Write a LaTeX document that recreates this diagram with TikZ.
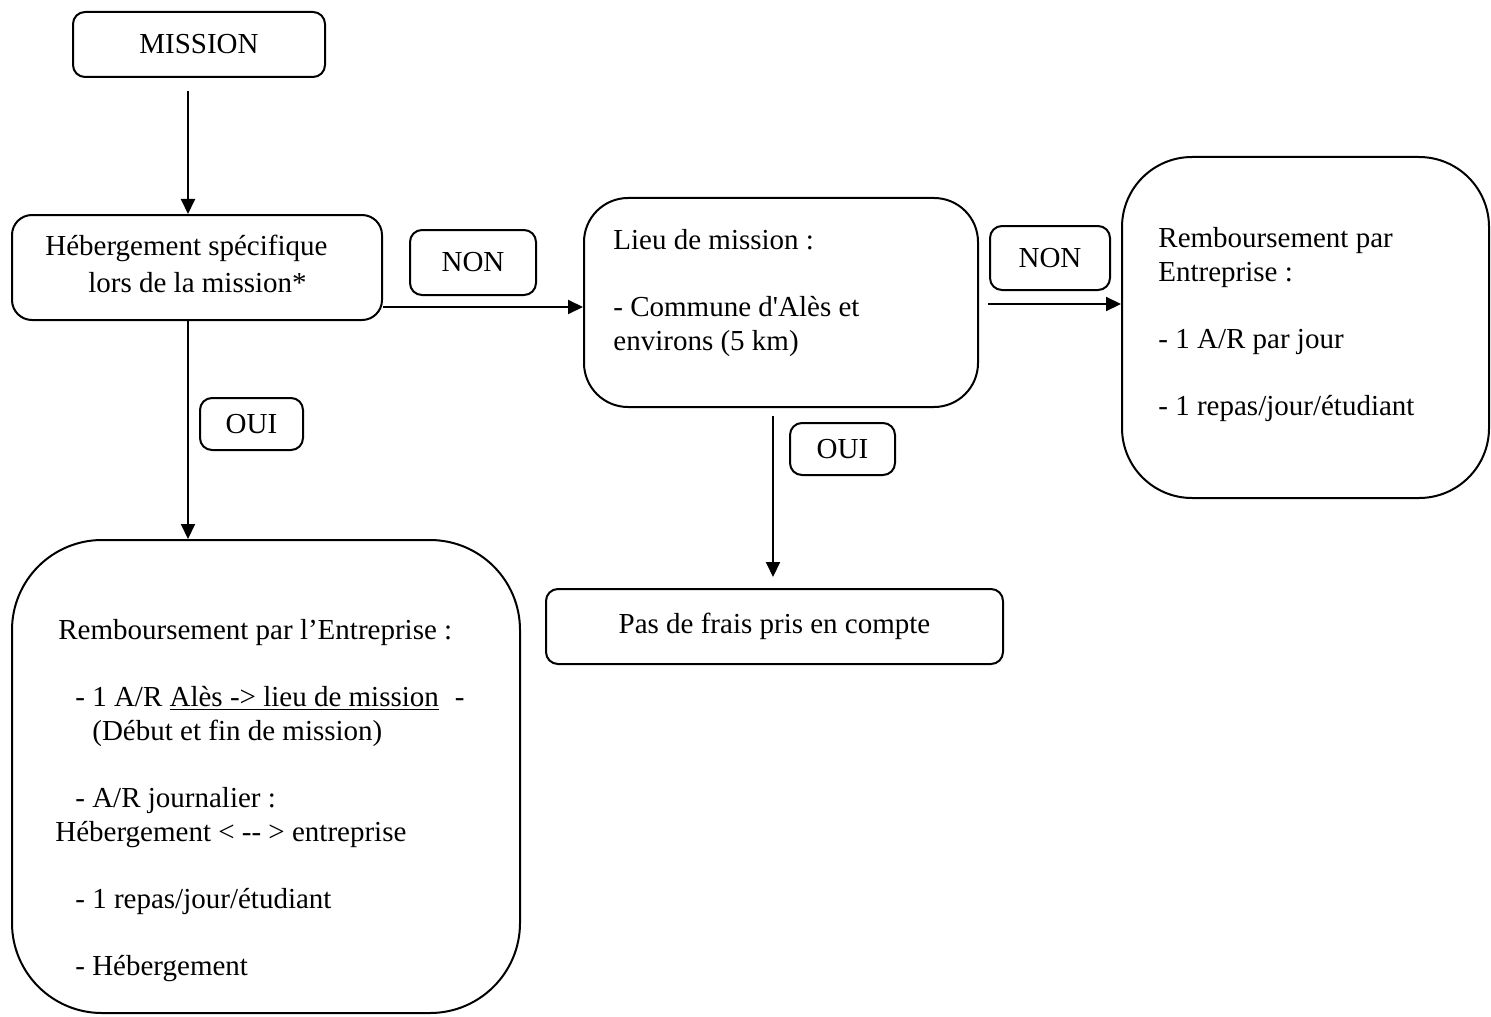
\documentclass[tikz,border=0pt]{standalone}
\usepackage{fontspec}
\setmainfont{Liberation Serif}
\usetikzlibrary{arrows.meta}

\begin{document}
\begin{tikzpicture}[x=0.5pt,y=-0.5pt,font=\fontsize{14.5}{16.8}\selectfont]
\tikzset{box/.style={draw,line width=1pt,rounded corners=#1,inner sep=0pt},box/.default=6pt,
  txt/.style={inner sep=0pt,align=left,anchor=north west},
  arr/.style={line width=1pt,-{Triangle[length=7.5pt,width=7pt]}}}
\useasboundingbox (0,0) rectangle (1491,1016);
\node[box,minimum width=126pt,minimum height=32.5pt] (mission) at (199,44.5) {MISSION};
\node[box=10pt,minimum width=185pt,minimum height=52.5pt] (heb) at (197,267.5) {};
\node[txt] (hebtxt) at (45,235)
  {Hébergement spécifique\\[1.7pt] \hspace*{21.5pt}lors de la mission*};
\node[box,minimum width=63pt,minimum height=32.5pt] (non1) at (473,262.5) {NON};
\node[box=22pt,minimum width=197pt,minimum height=104.5pt] (lieu) at (781,302.5) {};
\node[txt] (lieutxt) at (613,229)
  {Lieu de mission :\\[16.8pt] - Commune d\textquotesingle Alès et\\ environs (5 km)};
\node[box,minimum width=60pt,minimum height=32pt] (non2) at (1050,258) {NON};
\node[box=35pt,minimum width=183.5pt,minimum height=170.5pt] (rembB) at (1305.5,327.5) {};
\node[txt] (rembBtxt) at (1158,227)
  {Remboursement par\\ Entreprise :\\[16.8pt] - 1 A/R par jour\\[16.8pt] - 1 repas/jour/étudiant};
\node[box,minimum width=51.5pt,minimum height=26pt] (oui1) at (251.5,424) {OUI};
\node[box=45pt,minimum width=254pt,minimum height=236.5pt] (rembA) at (266,776.5) {};
\node[txt] (rembAtxt) at (55,619)
  {\hspace*{1.5pt}Remboursement par l’Entreprise :\\[16.8pt]
   \hspace*{10pt}- 1 A/R \underline{Alès -> lieu de mission}\hspace{8pt}-\\
   \hspace*{18.5pt}(Début et fin de mission)\\[16.8pt]
   \hspace*{10pt}- A/R journalier :\\
   Hébergement < {-}{-} > entreprise\\[16.8pt]
   \hspace*{10pt}- 1 repas/jour/étudiant\\[16.8pt]
   \hspace*{10pt}- Hébergement};
\node[box,minimum width=52.5pt,minimum height=26pt] (oui2) at (842.5,449) {OUI};
\node[box,minimum width=228.5pt,minimum height=37.5pt] (pas) at (774.5,626.5) {Pas de frais pris en compte};
\coordinate (hx) at (188,0);
\coordinate (lx) at (773,0);
\coordinate (ny1) at (0,307);
\coordinate (ny2) at (0,304);
\draw[arr,shorten <=6.5pt] (mission.south -| hx) -- (heb.north -| hx);
\draw[arr] (heb.south -| hx) -- (rembA.north -| hx);
\draw[arr] (heb.east |- ny1) -- (lieu.west |- ny1);
\draw[arr,shorten <=4.5pt] (lieu.east |- ny2) -- (rembB.west |- ny2);
\draw[arr,shorten <=4pt,shorten >=5.5pt] (lieu.south -| lx) -- (pas.north -| lx);
\end{tikzpicture}
\end{document}
